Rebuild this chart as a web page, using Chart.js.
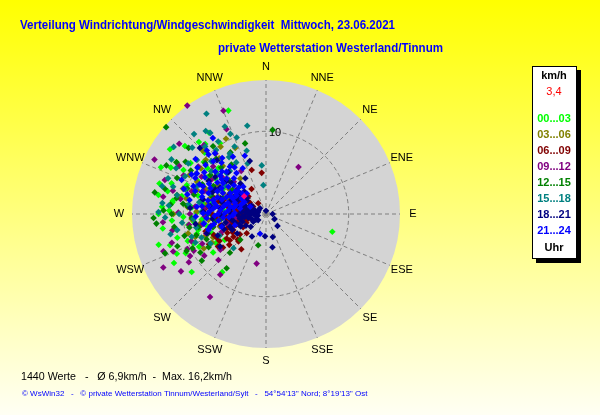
<!DOCTYPE html>
<html lang="de">
<head>
  <meta charset="UTF-8">
  <title>Verteilung Windrichtung/Windgeschwindigkeit</title>
  <script src="https://cdn.jsdelivr.net/npm/chart.js"></script>
  <style>
    body { margin: 0; background: #ffffff; }
    canvas { display: block; }
  </style>
</head>
<body>
<canvas id="windChart" width="600" height="415"></canvas>

<script>
// compass labels (clockwise from north) and speed scale
const dirLabels = ["N", "NNE", "NE", "ENE", "E", "ESE", "SE", "SSE", "S", "SSW", "SW", "WSW", "W", "WNW", "NW", "NNW"];
const ringValues = [10];
const speedMax = 16.2;

const hourLabels = ["00...03", "03...06", "06...09", "09...12", "12...15", "15...18", "18...21", "21...24"];
const hourColors = ["#00FF00", "#808000", "#800000", "#800080", "#008000", "#008080", "#000080", "#0000FF"];

// each value: [direction in degrees, speed in km/h]
const h00_03 = [[340,13.3],[317,11.9],[304,14.0],[294,13.9],[286,13.4],[278,11.4],[254,13.5],[232,11.4],[217,8.8],[234,7.9],[105,8.3],[272,11.7],[255,11.1],[248,9.4],[238,5.9],[298,11.3],[292,7.7],[320,8.6],[254,8.7],[268,10.0],[291,4.7],[267,6.4],
  [300,6.0],[285,8.5],[275,9.0],[262,9.5],[310,9.8],[305,7.5],[280,6.8],[265,7.8],[250,6.9],[290,10.2],[315,10.5],[325,12.0],[283,12.2],[276,5.2],[296,9.2],[260,11.0],[244,10.8],[300,12.5],[270,13.0],
  [296,7.0],[302,8.4],[308,9.0],[314,8.0],[319,11.2],[304,11.0],[289,9.0],[282,10.4],[277,11.4],[271,8.4],[264,8.8],[257,8.4],[251,10.0],[244,9.0],[262,12.6],[288,12.0],[296,12.8],[310,12.8],[286,6.0],[279,7.6],[258,7.2],[240,7.0],[246,11.8],[327,10.2],[274,12.6],
  [266,11.4],[280,13.2],[252,12.2],[242,12.6]];
const h03_06 = [[332,10.3],[335,8.8],[291,7.7],[241,8.6],[242,7.4],[271,3.5],[287,10.5],[256,9.7],[296,5.7],[324,5.3],[272,8.4],[255,5.8],
  [280,7.2],[300,8.0],[310,6.5],[285,4.5],[265,6.0],[295,9.2],[305,9.6],[318,7.8],[275,9.5],[262,8.0],[290,6.2],[315,10.8],[300,4.2],[250,7.8],[283,5.5],[268,4.8],
  [278,6.2],[286,7.0],[293,8.0],[301,6.8],[308,8.4],[312,9.8],[297,10.4],[289,8.8],[281,9.8],[272,6.6],[264,7.0],[258,6.8],[252,9.0],[246,7.0],[266,9.0],[276,4.0],[292,5.0],[304,5.4],[320,8.8],[326,9.8],[282,11.0],[270,11.2]];
const h06_09 = [[354,5.0],[215,5.2],[225,4.7],[234,5.4],[225,3.3],[288,5.4],[286,3.3],[300,1.8],[263,2.8],[244,4.4],[342,5.6],[309,4.6],[257,6.6],[273,5.6],[324,1.6],[274,4.4],[262,2.2],
  [280,3.0],[270,2.5],[255,3.5],[250,5.0],[290,2.8],[295,4.0],[283,4.0],[260,4.5],[246,6.0],[240,6.5],[232,4.0],[265,3.8],[278,2.0],[300,3.4],[315,3.0],[330,3.5],[268,5.0],[252,2.5],[240,3.2],[285,6.0],
  [276,3.6],[271,4.2],[266,2.2],[258,3.0],[250,3.8],[244,5.2],[238,5.6],[248,6.8],[256,5.6],[262,6.2],[270,6.6],[280,4.6],[292,3.6],[298,5.0],[288,6.8],[275,7.4],[254,7.6],[242,7.8],[230,5.8],[236,7.0],[262,3.4],[283,2.6],[305,2.4],[270,3.2],[246,2.6],
  [268,2.8],[260,2.6],[255,4.4],[252,4.2],[247,4.6],[241,4.6],[235,4.8],[264,4.8],[258,4.0],[273,3.0],[266,6.0],[244,6.6],[232,6.6],[228,4.6],[255,2.0]];
const h09_12 = [[324,16.2],[337.6,13.5],[335,11.3],[34.7,6.9],[296,15.0],[242.5,14.0],[214,12.1],[190.7,6.1],[217,9.2],[241,10.5],[253,11.9],[248,12.1],[309,13.5],[279.5,12.6],[265.4,12.5],[288.6,12.9],
  [300,9.0],[290,8.0],[280,10.5],[270,9.2],[260,8.0],[310,7.0],[320,9.5],[285,6.5],[265,5.5],[250,9.6],[295,11.0],[305,10.0],[275,7.5],[245,8.5],[315,5.5],[330,6.0],[260,11.5],[282,4.0],[232,7.0],
  [294,7.0],[287,9.4],[276,8.6],[268,7.4],[258,6.8],[252,7.6],[243,9.8],[236,9.0],[262,9.4],[271,10.6],[284,11.6],[302,7.8],[312,8.6],[318,11.2],[299,12.0],[256,4.8],[248,5.8],[264,3.6],[278,5.6],[290,4.4],[226,8.0],[238,11.0],
  [246,10.4],[250,13.2],[236,12.4]];
const h12_15 = [[311,16.0],[4.5,10.2],[281,13.7],[265,13.3],[248.7,13.1],[216,8.1],[343.5,8.9],[194,3.9],[239.6,9.2],[223,6.4],[310.5,12.3],[300,12.5],[275.6,11.6],[277,10.1],[259,8.3],[251.5,7.4],[225,4.4],
  [295,8.5],[285,9.0],[305,8.2],[290,5.6],[270,7.0],[262,6.2],[318,9.0],[325,7.3],[280,11.0],[300,10.5],[255,10.2],[245,9.8],[312,6.0],[272,12.4],
  [288,10.0],[282,8.0],[276,9.6],[267,9.0],[260,9.4],[253,8.8],[247,7.8],[240,8.0],[270,11.4],[292,11.6],[303,11.6],[310,9.6],[316,7.8],[298,7.2],[289,7.0],[278,7.0],[264,5.4],[256,6.6],[322,10.4],[330,8.6],[296,13.4],[284,12.6],[306,5.0],[250,11.4],[234,9.6],
  [262,11.2],[268,13.6],[245,10.6]];
const h15_18 = [[329.3,14.1],[334.8,11.7],[348,10.9],[339,9.9],[343,8.0],[325.5,11.9],[326.6,10.5],[354.7,3.5],[355,5.9],[271,13.0],[259.8,10.9],[253,9.4],[223.6,5.7],[286.4,11.7],[329,8.5],[308,10.6],[309.5,7.7],
  [318,11.0],[312,12.0],[300,9.7],[290,7.2],[280,8.2],[270,10.5],[262,7.6],[320,6.8],[330,7.2],[305,6.0],[295,10.8],[275,11.8],[285,13.0],[335,9.0],[340,6.5],[250,8.3],[245,6.2],[300,13.2],
  [314,9.2],[308,8.4],[303,11.2],[297,12.2],[322,9.8],[327,8.2],[316,6.8],[292,9.0],[287,10.2],[282,11.0],[277,9.4],[266,8.8],[259,8.6],[254,7.2],[268,12.2],[290,12.6],[306,13.8],[318,13.0],[324,12.4],[296,6.4],[284,6.6],[272,7.8],[248,9.2],[336,10.6],[242,7.6],
  [264,10.2],[276,12.6],[258,11.8]];
const h18_21 = [[136,2.0],[163.6,2.9],[182.5,2.7],[169,4.1],[0,0.4],[239,1.8],[343,6.7],[212,3.2],[234.6,6.8],[315,11.3],[254,1.2],[301.7,3.2],[286,2.4],[232,1.2],[313,1.0],[250.6,4.6],[252,7.5],[274.5,9.2],[317.6,8.8],[308.5,4.0],
  [270,1.5],[280,1.0],[290,1.5],[260,1.0],[265,2.0],[275,3.0],[295,2.2],[300,5.0],[285,5.5],[270,4.2],[260,3.2],[320,4.8],[310,6.2],[292,7.0],[278,6.8],[265,6.5],[255,5.5],[245,4.5],[282,2.0],[240,2.8],[250,1.8],[300,8.0],[330,5.0],[120,1.2],[90,0.8],
  [275,2.5],[285,3.4],[296,3.8],[305,2.8],[262,2.6],[255,3.9],[248,3.5],[268,3.4],[290,4.6],[280,4.2],[300,6.4],[312,5.6],[283,7.8],[272,7.6],[262,8.6],[246,6.4],[258,5.0],[236,4.2],[294,1.0],[268,1.2],[276,1.8],[286,1.4],[300,2.0],[240,1.4],[230,2.4],
  [288,3.0],[293,2.8],[298,4.4],[304,3.8],[310,3.0],[316,3.8],[281,3.0],[272,2.2],[264,2.8],[258,2.2],[252,3.0],[277,5.6],[289,5.8],[296,6.8],[306,7.6],[268,5.4],[261,4.2],[250,5.4],[244,3.4],[318,6.8]];
const h21_24 = [[196.7,2.5],[317,10.5],[300.4,9.7],[322.7,7.2],[320,9.6],[293.6,8.3],[305.7,6.4],[324.2,6.1],[320.3,4.3],[285,6.6],[270.6,7.6],[257,6.9],[317,3.4],[281.5,4.4],[280.4,9.4],[294.6,2.1],
  [300,5.0],[295,6.5],[290,4.0],[310,8.0],[305,3.5],[285,8.0],[275,5.5],[265,4.5],[312,5.2],[298,7.8],[288,9.0],[278,7.0],[268,8.5],[262,5.8],[330,8.0],[340,7.5],[315,9.0],[292,11.0],[282,3.2],[272,3.8],[255,7.2],[250,4.0],[308,10.8],[325,11.2],
  [302,4.2],[296,5.8],[289,6.2],[283,5.0],[308,6.8],[314,7.4],[319,8.2],[304,9.0],[297,9.6],[290,7.4],[286,4.8],[279,6.0],[273,6.8],[268,6.2],[261,7.6],[276,8.4],[284,9.8],[299,3.0],[306,4.6],[311,3.8],[318,5.8],[326,6.8],[333,6.2],[294,8.8],[287,10.4],[280,5.2],[271,5.0],[303,7.0],[309,9.4],[316,10.0],[298,10.2],[291,3.2],
  [293,5.2],[288,5.6],[282,6.4],[276,6.4],[270,5.8],[265,5.2],[300,6.2],[306,5.6],[312,6.4],[317,7.0],[322,8.6],[301,8.6],[295,7.4],[289,8.2],[283,7.2],[277,7.8],[271,7.0],[266,7.2],[259,6.4],[254,5.6],[286,3.8],[295,4.4],[302,3.4],[309,4.4],[314,4.6],[281,4.0],[275,4.6],[268,4.0],[291,9.4],[304,10.0],[310,7.2],[297,4.8]];
const currentValue = [[309, 3.4]];

const hourSeries = [h00_03, h03_06, h06_09, h09_12, h12_15, h15_18, h18_21, h21_24];

function toXY(list) {
  return list.map(([dir, spd]) => {
    const a = dir * Math.PI / 180;
    return { x: spd * Math.sin(a), y: spd * Math.cos(a) };
  });
}

const datasets = hourSeries.map((series, i) => ({
  label: hourLabels[i],
  data: toXY(series),
  backgroundColor: hourColors[i],
  borderWidth: 0,
  pointStyle: "rectRot",
  pointRadius: 3.3,
  clip: false,
  order: 10 - i   // later hours on top
}));
datasets.push({
  label: "aktuell",
  data: toXY(currentValue),
  backgroundColor: "#FF0080",
  borderWidth: 0,
  pointStyle: "rectRot",
  pointRadius: 3.3,
  clip: false,
  order: 0
});

const windRose = {
  id: "windRose",
  beforeDraw(chart) {
    const ctx = chart.ctx;
    const W = chart.width, H = chart.height;
    ctx.save();
    const g = ctx.createLinearGradient(0, 0, 0, H);
    g.addColorStop(0, "#FFFF00");
    g.addColorStop(1, "#FFFFF4");
    ctx.fillStyle = g;
    ctx.fillRect(0, 0, W, H);

    // titles
    ctx.fillStyle = "#0000FF";
    ctx.font = "bold 13px 'Liberation Sans', Arial, sans-serif";
    ctx.textBaseline = "middle";
    ctx.textAlign = "left";
    ctx.fillText("Verteilung Windrichtung/Windgeschwindigkeit  Mittwoch, 23.06.2021", 20, 25, 375);
    ctx.fillText("private Wetterstation Westerland/Tinnum", 218, 48, 225);

    // footer
    ctx.fillStyle = "#000000";
    ctx.font = "11px 'Liberation Sans', Arial, sans-serif";
    ctx.fillText("1440 Werte   -   \u00D8 6,9km/h  -  Max. 16,2km/h", 21, 377, 211);
    ctx.fillStyle = "#0000FF";
    ctx.font = "8px 'Liberation Sans', Arial, sans-serif";
    ctx.fillText("\u00A9 WsWin32   -   \u00A9 private Wetterstation Tinnum/Westerland/Sylt   -   54\u00B054'13'' Nord; 8\u00B019'13'' Ost", 22, 394, 349);

    // legend box
    ctx.fillStyle = "#000000";
    ctx.fillRect(536, 70, 45, 193);
    ctx.fillStyle = "#FFFFFF";
    ctx.fillRect(532, 66, 45, 193);
    ctx.strokeStyle = "#000000";
    ctx.lineWidth = 1;
    ctx.strokeRect(532.5, 66.5, 44, 192);
    ctx.textAlign = "center";
    ctx.font = "bold 11px 'Liberation Sans', Arial, sans-serif";
    ctx.fillStyle = "#000000";
    ctx.fillText("km/h", 554, 76);
    ctx.font = "11px 'Liberation Sans', Arial, sans-serif";
    ctx.fillStyle = "#FF0000";
    ctx.fillText("3,4", 554, 92);
    ctx.font = "bold 11px 'Liberation Sans', Arial, sans-serif";
    hourLabels.forEach((lab, i) => {
      ctx.fillStyle = hourColors[i];
      ctx.fillText(lab, 554, 119 + i * 16, 36);
    });
    ctx.fillStyle = "#000000";
    ctx.fillText("Uhr", 554, 248);
    ctx.restore();
  },
  beforeDatasetsDraw(chart) {
    const ctx = chart.ctx;
    const sx = chart.scales.x, sy = chart.scales.y;
    const cx = sx.getPixelForValue(0), cy = sy.getPixelForValue(0);
    const R = sx.getPixelForValue(speedMax) - cx;
    ctx.save();
    ctx.fillStyle = "#D4D4D4";
    ctx.beginPath();
    ctx.arc(cx, cy, R, 0, Math.PI * 2);
    ctx.fill();

    ctx.strokeStyle = "#7F7F7F";
    ctx.lineWidth = 1;
    ctx.setLineDash([4, 3]);
    dirLabels.forEach((lab, i) => {
      const a = i * Math.PI / 8;
      ctx.beginPath();
      ctx.moveTo(cx, cy);
      ctx.lineTo(cx + R * Math.sin(a), cy - R * Math.cos(a));
      ctx.stroke();
    });
    ringValues.forEach(v => {
      const r = sx.getPixelForValue(v) - cx;
      ctx.beginPath();
      ctx.arc(cx, cy, r, 0, Math.PI * 2);
      ctx.stroke();
    });
    ctx.setLineDash([]);

    ctx.fillStyle = "#000000";
    ctx.font = "11px 'Liberation Sans', Arial, sans-serif";
    ctx.textAlign = "center";
    ctx.textBaseline = "middle";
    dirLabels.forEach((lab, i) => {
      const a = i * Math.PI / 8;
      ctx.fillText(lab, cx + (R + 13) * Math.sin(a), cy - (R + 13) * Math.cos(a));
    });
    ctx.textAlign = "left";
    ringValues.forEach(v => {
      const r = sx.getPixelForValue(v) - cx;
      ctx.fillText(String(v), cx + 3, cy - r + 2);
    });
    ctx.restore();
  }
};

new Chart(document.getElementById("windChart"), {
  type: "scatter",
  data: { datasets: datasets },
  options: {
    responsive: false,
    animation: false,
    layout: { padding: { left: 132, top: 80, right: 200, bottom: 67 } },
    scales: {
      x: { display: false, min: -speedMax, max: speedMax },
      y: { display: false, min: -speedMax, max: speedMax }
    },
    plugins: {
      legend: { display: false },
      title: { display: false },
      tooltip: { enabled: false }
    }
  },
  plugins: [windRose]
});
</script>
</body>
</html>
